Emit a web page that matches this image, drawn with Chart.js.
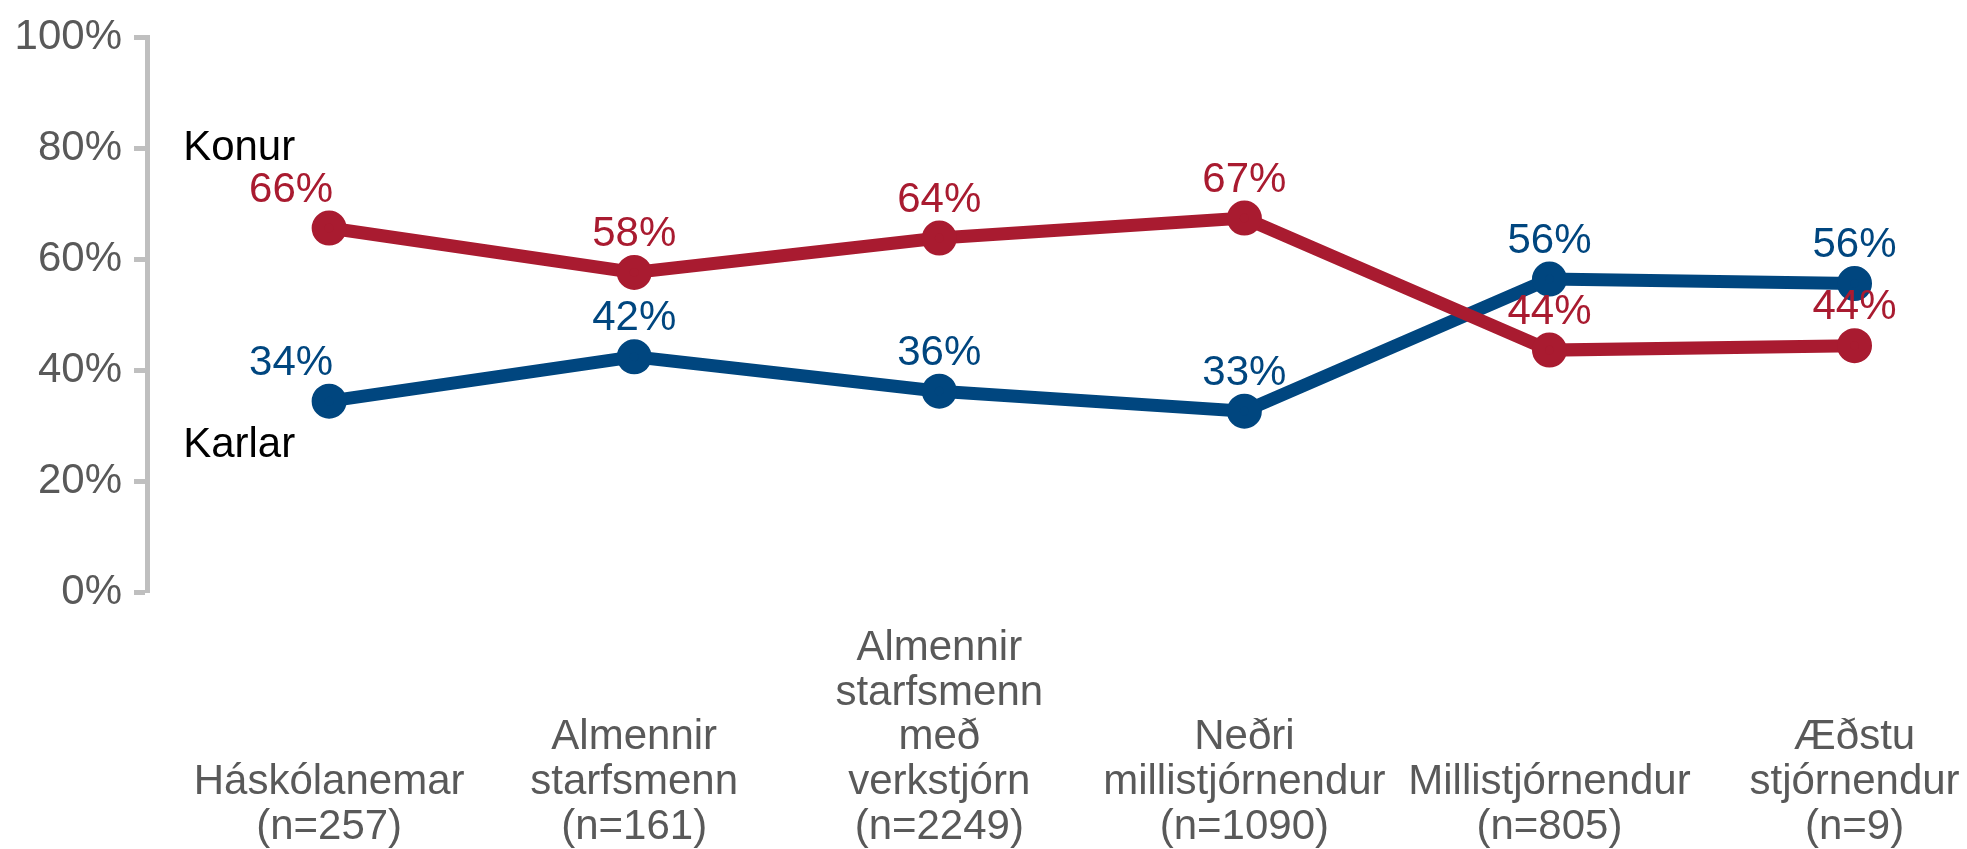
<!DOCTYPE html>
<html>
<head>
<meta charset="utf-8">
<script src="https://cdn.jsdelivr.net/npm/chart.js@4"></script>
<style>
  html, body { margin: 0; padding: 0; background: #fff; }
  #wrap { width: 1967px; height: 849px; }
</style>
</head>
<body>
<div id="wrap"><canvas id="lineChart" width="1967" height="849"></canvas></div>
<script>
// Chart data
const categories = [
    ['Háskólanemar', '(n=257)'],
    ['Almennir', 'starfsmenn', '(n=161)'],
    ['Almennir', 'starfsmenn', 'með', 'verkstjórn', '(n=2249)'],
    ['Neðri', 'millistjórnendur', '(n=1090)'],
    ['Millistjórnendur', '(n=805)'],
    ['Æðstu', 'stjórnendur', '(n=9)']
];
const seriesNames = ['Konur', 'Karlar'];
const konur = [65.6, 57.6, 63.8, 67.4, 43.6, 44.4];
const karlar = [34.4, 42.4, 36.2, 32.6, 56.4, 55.6];
const yTicks = [0, 20, 40, 60, 80, 100];

const seriesValues = [konur, karlar];
const red = '#a91b30';
const blue = '#00467f';
const fontFamily = '"Liberation Sans", Arial, sans-serif';
const fontSize = 42;

// Value labels above each point, series names beside the first point
const labelPlugin = {
    id: 'pointLabels',
    afterDatasetsDraw(chart) {
        const ctx = chart.ctx;
        ctx.save();
        ctx.font = `${fontSize}px ${fontFamily}`;
        ctx.textBaseline = 'middle';
        chart.data.datasets.forEach((ds, di) => {
            const meta = chart.getDatasetMeta(di);
            const values = seriesValues[di];
            meta.data.forEach((pt, i) => {
                ctx.fillStyle = ds.borderColor;
                ctx.textAlign = i === 0 ? 'right' : 'center';
                const x = i === 0 ? pt.x + 4 : pt.x;
                ctx.fillText(Math.round(values[i]) + '%', x, pt.y - 38);
            });
            // series name
            const first = meta.data[0];
            ctx.fillStyle = '#000';
            ctx.textAlign = 'left';
            const dy = di === 0 ? -80 : 44;
            ctx.fillText(seriesNames[di], first.x - 146, first.y + dy);
        });
        ctx.restore();
    }
};

const ctx = document.getElementById('lineChart').getContext('2d');
const lineChart = new Chart(ctx, {
    type: 'line',
    data: {
        datasets: [{
            label: seriesNames[0],
            data: konur.map((v, i) => ({ x: i, y: v })),
            borderColor: red,
            backgroundColor: red,
            borderWidth: 13,
            pointRadius: 11,
            pointHoverRadius: 11,
            tension: 0
        }, {
            label: seriesNames[1],
            data: karlar.map((v, i) => ({ x: i, y: v })),
            borderColor: blue,
            backgroundColor: blue,
            borderWidth: 13,
            pointRadius: 11,
            pointHoverRadius: 11,
            tension: 0
        }]
    },
    options: {
        responsive: false,
        animation: false,
        layout: { padding: { top: 30, right: 0, left: 0, bottom: 0 } },
        plugins: {
            legend: { display: false },
            tooltip: { enabled: false }
        },
        scales: {
            x: {
                type: 'linear',
                min: -0.597,
                max: 5.29,
                afterBuildTicks: (scale) => {
                    scale.ticks = categories.map((c, i) => ({ value: i }));
                },
                afterFit: (scale) => {
                    scale.height = 257;
                    scale.paddingLeft = 0;
                    scale.paddingRight = 0;
                },
                grid: { display: false },
                border: { display: false },
                ticks: {
                    autoSkip: false,
                    maxRotation: 0,
                    crossAlign: 'far',
                    padding: 48,
                    color: '#595959',
                    font: { family: fontFamily, size: fontSize, lineHeight: 1.07 },
                    callback: (value) => categories[value]
                }
            },
            y: {
                min: 0,
                max: 100,
                afterBuildTicks: (scale) => {
                    scale.ticks = yTicks.map(v => ({ value: v }));
                },
                afterFit: (scale) => { scale.width = 147; },
                grid: {
                    drawOnChartArea: false,
                    tickLength: 13,
                    tickWidth: 5,
                    tickColor: '#bfbfbf'
                },
                border: { color: '#bfbfbf', width: 5 },
                ticks: {
                    padding: 12,
                    color: '#595959',
                    font: { family: fontFamily, size: fontSize },
                    callback: (v) => v + '%'
                }
            }
        }
    },
    plugins: [labelPlugin]
});
</script>
</body>
</html>
